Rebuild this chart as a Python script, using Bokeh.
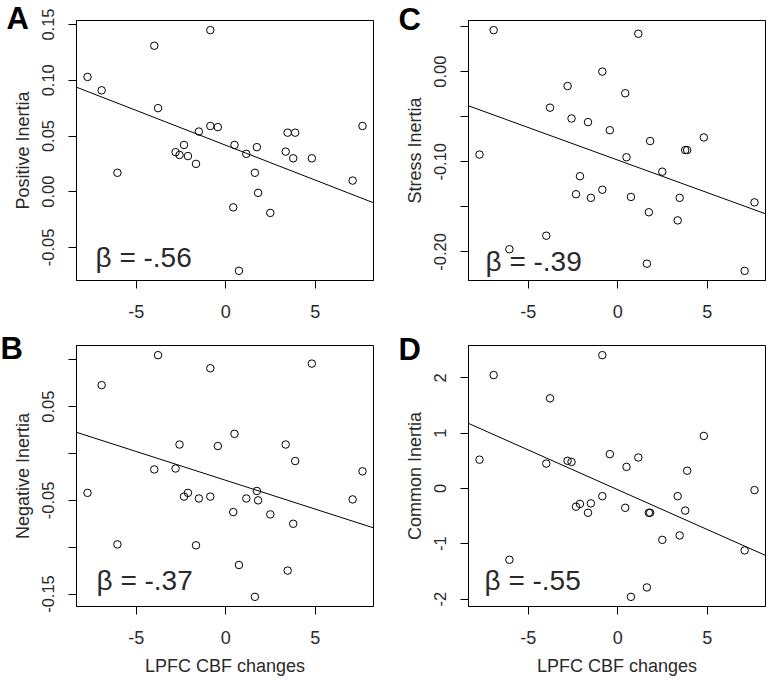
from bokeh.plotting import figure
from bokeh.layouts import gridplot
from bokeh.models import Range1d, FixedTicker, Slope, Label
from bokeh.embed import file_html
from bokeh.resources import INLINE

# ---- data ----
lpfc_cbf_change = [-7.72, -6.93, -6.05, -3.99, -3.78, -2.80, -2.58, -2.33, -2.11, -1.66,
                   -1.50, -0.86, -0.86, -0.44, 0.42, 0.49, 0.74, 1.15, 1.63, 1.74,
                   1.81, 2.49, 3.35, 3.46, 3.77, 3.88, 4.81, 7.09, 7.64]

positive_inertia = [0.103, 0.091, 0.017, 0.131, 0.075, 0.0355, 0.033, 0.042, 0.032, 0.025,
                    0.054, 0.145, 0.059, 0.058, -0.014, 0.042, -0.071, 0.034, 0.017, 0.040,
                    -0.001, -0.019, 0.036, 0.053, 0.030, 0.053, 0.030, 0.010, 0.059]

negative_inertia = [-0.042, 0.073, -0.097, -0.017, 0.105, -0.016, 0.0096, -0.046, -0.042, -0.098,
                    -0.048, 0.091, -0.046, 0.008, -0.0625, 0.021, -0.119, -0.048, -0.153, -0.040,
                    -0.050, -0.065, 0.0096, -0.125, -0.075, -0.008, 0.096, -0.049, -0.019]

stress_inertia = [-0.092, 0.046, -0.197, -0.182, -0.040, -0.016, -0.052, -0.136, -0.116, -0.056,
                  -0.140, 0.000, -0.131, -0.065, -0.024, -0.095, -0.139, 0.042, -0.213, -0.156,
                  -0.077, -0.111, -0.165, -0.140, -0.087, -0.087, -0.073, -0.221, -0.145]

common_inertia = [0.52, 2.05, -1.29, 0.45, 1.63, 0.50, 0.48, -0.33, -0.28, -0.44,
                  -0.27, 2.41, -0.14, 0.62, -0.35, 0.39, -1.96, 0.56, -1.79, -0.44,
                  -0.44, -0.93, -0.14, -0.85, -0.40, 0.32, 0.95, -1.12, -0.03]

# fitted lines as drawn in the reference: (intercept, slope)
fit_positive = (0.0417, -0.00625)
fit_negative = (-0.0286, -0.00615)
fit_stress = (-0.0981, -0.00722)
fit_common = (-0.023, -0.1439)

x_ticks = [-5, 0, 5]
x_tick_labels = ["-5", "0", "5"]

pos_ticks = [0.15, 0.10, 0.05, 0.00, -0.05]
pos_tick_labels = ["0.15", "0.10", "0.05", "0.00", "-0.05"]
neg_ticks = [0.10, 0.05, 0.00, -0.05, -0.10, -0.15]
neg_tick_labels = ["", "0.05", "", "-0.05", "", "-0.15"]
str_ticks = [0.05, 0.00, -0.05, -0.10, -0.15, -0.20]
str_tick_labels = ["", "0.00", "", "-0.10", "", "-0.20"]
com_ticks = [2, 1, 0, -1, -2]
com_tick_labels = ["2", "1", "0", "-1", "-2"]

betas = ["\u03b2 = -.56", "\u03b2 = -.37", "\u03b2 = -.39", "\u03b2 = -.55"]
letters = ["A", "B", "C", "D"]
y_titles = ["Positive Inertia", "Negative Inertia", "Stress Inertia", "Common Inertia"]
x_title = "LPFC CBF changes"

FONT = "Liberation Sans"
TXT = "#2a2a2a"


def r_range(v):
    lo, hi = min(v), max(v)
    pad = 0.04 * (hi - lo)
    return Range1d(lo - pad, hi + pad)


def panel(y, fit, ytitle, yticks, ylabels, letter, beta, width, height,
          bl, br, bt, bb, show_xtitle, beta_off, letter_off):
    xr = r_range(lpfc_cbf_change)
    yr = r_range(y)
    p = figure(width=width, height=height, x_range=xr, y_range=yr,
               output_backend="svg", toolbar_location=None,
               min_border_left=bl, min_border_right=br,
               min_border_top=bt, min_border_bottom=bb)
    p.xgrid.visible = False
    p.ygrid.visible = False
    p.outline_line_color = "black"
    p.outline_line_width = 1
    p.outline_line_alpha = 1
    p.background_fill_color = "white"
    p.border_fill_color = "white"

    p.scatter(lpfc_cbf_change, y, size=7.5, marker="circle", fill_color=None,
              line_color="black", line_width=1)
    p.add_layout(Slope(gradient=fit[1], y_intercept=fit[0],
                       line_color="black", line_width=1))

    for ax in p.axis:
        ax.major_tick_out = 8
        ax.major_tick_in = 0
        ax.minor_tick_out = 0
        ax.minor_tick_in = 0
        ax.axis_line_color = "black"
        ax.major_tick_line_color = "black"
        ax.major_label_text_font = FONT
        ax.major_label_text_color = TXT
        ax.axis_label_text_font = FONT
        ax.axis_label_text_font_size = "18px"
        ax.axis_label_text_font_style = "normal"
        ax.axis_label_text_color = TXT

    p.xaxis.ticker = FixedTicker(ticks=x_ticks)
    p.xaxis.major_label_overrides = dict(zip(x_ticks, x_tick_labels))
    p.xaxis.major_label_text_font_size = "18px"
    p.xaxis.major_label_standoff = 16
    if show_xtitle:
        p.xaxis.axis_label = x_title
        p.xaxis.axis_label_standoff = 9

    p.yaxis.ticker = FixedTicker(ticks=yticks)
    p.yaxis.major_label_overrides = dict(zip(yticks, ylabels))
    p.yaxis.major_label_orientation = "vertical"
    p.yaxis.major_label_text_font_size = "16.5px"
    p.yaxis.major_label_standoff = 14
    p.yaxis.axis_label = ytitle
    p.yaxis.axis_label_standoff = 7

    fw = width - bl - br
    fh = height - bt - bb
    xs = xr.end - xr.start
    ys = yr.end - yr.start
    p.add_layout(Label(x=xr.start + beta_off[0] / fw * xs,
                       y=yr.start + beta_off[1] / fh * ys,
                       text=beta, text_font=FONT, text_font_size="28px",
                       text_color=TXT, text_baseline="alphabetic", text_align="left"))
    # panel letter: lives in the right side panel (not clipped), drawn at a data position
    p.add_layout(Label(x=xr.start + letter_off[0] / fw * xs,
                       y=yr.end + letter_off[1] / fh * ys,
                       text=letter, text_font=FONT, text_font_size="31px",
                       text_font_style="bold", text_color="black",
                       text_baseline="top", text_align="left"), "right")
    return p


pA = panel(positive_inertia, fit_positive, y_titles[0], pos_ticks, pos_tick_labels, letters[0],
           betas[0], 397, 330, 76, 24, 20, 48, False, (19, 23), (-70, 20))
pC = panel(stress_inertia, fit_stress, y_titles[2], str_ticks, str_tick_labels, letters[2],
           betas[2], 392, 330, 71, 24, 20, 50, False, (17, 19), (-70, 19))
pB = panel(negative_inertia, fit_negative, y_titles[1], neg_ticks, neg_tick_labels, letters[1],
           betas[1], 397, 350, 76, 24, 15, 74, True, (20, 26), (-76, 15))
pD = panel(common_inertia, fit_common, y_titles[3], com_ticks, com_tick_labels, letters[3],
           betas[3], 392, 350, 71, 24, 15, 74, True, (16, 26), (-70, 14))

grid = gridplot([[pA, pC], [pB, pD]], toolbar_location=None)

open("out.html", "w").write(file_html(grid, INLINE))
